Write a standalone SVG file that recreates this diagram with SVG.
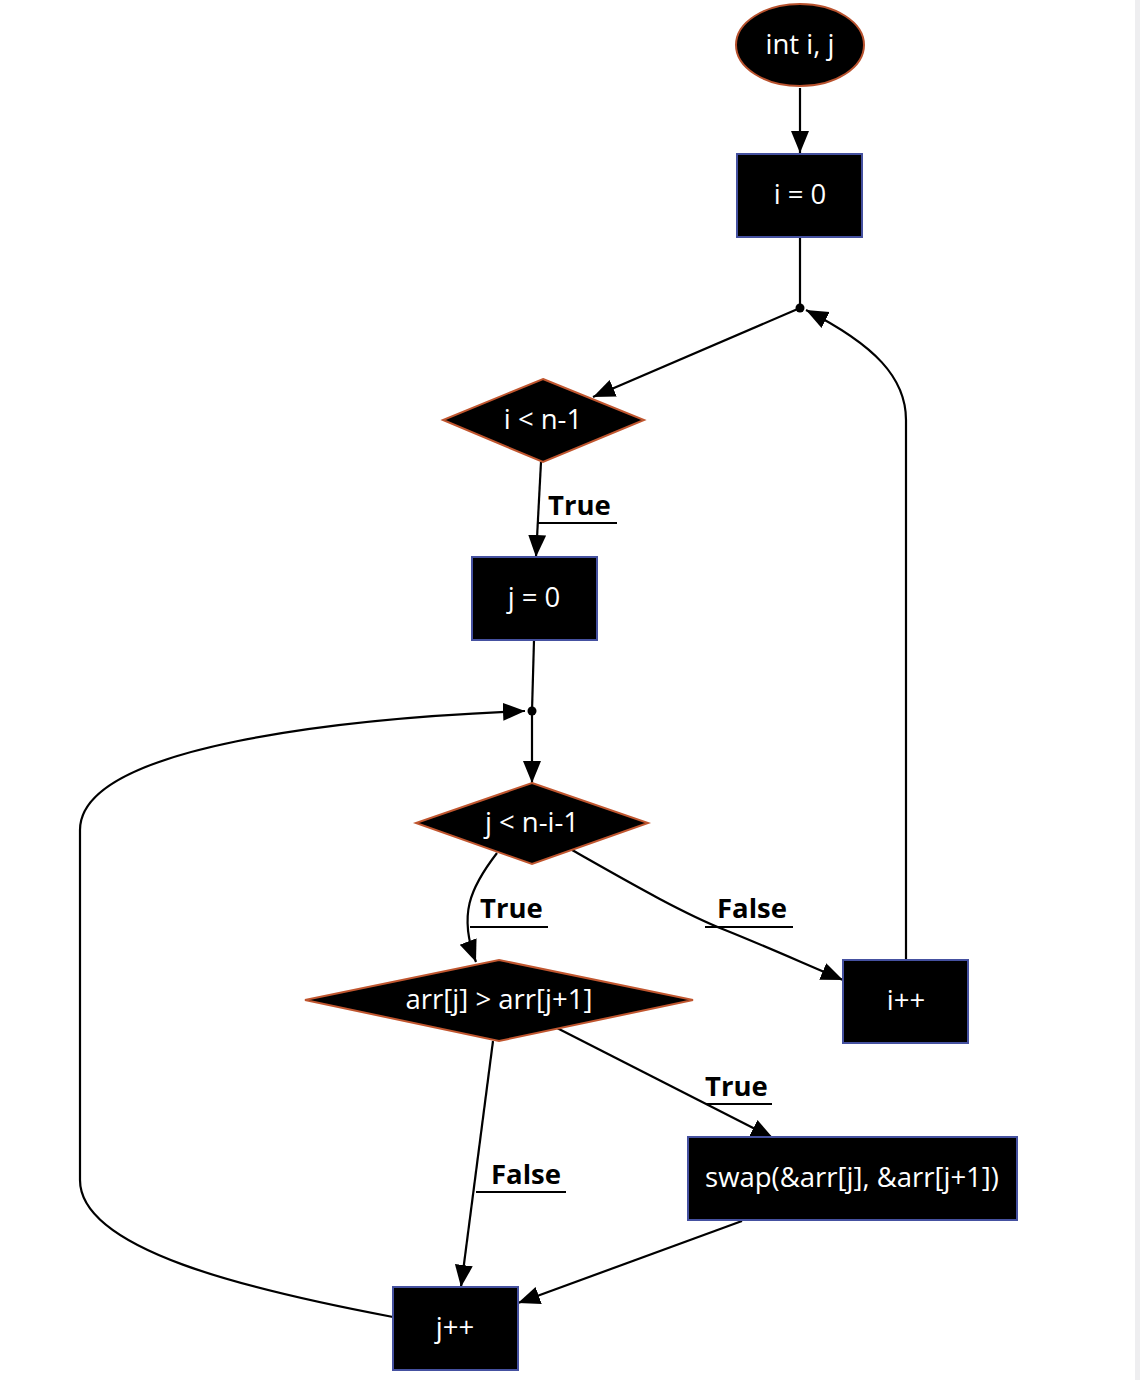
<svg xmlns="http://www.w3.org/2000/svg" width="1140" height="1380" viewBox="0 0 1140 1380">
<style>
.bg{fill:#ffffff}
.term{fill:#000;stroke:#b8522e;stroke-width:2}
.dec{fill:#000;stroke:#c0562f;stroke-width:2}
.proc{fill:#000;stroke:#4551a0;stroke-width:2}
.nt{font-family:"Open Sans","Noto Sans",sans-serif;font-size:27.5px;fill:#fff;text-anchor:middle}
.lbl{font-family:"Open Sans","Noto Sans",sans-serif;font-size:27.5px;font-weight:bold;fill:#000}
.e{fill:none;stroke:#000;stroke-width:2.2}
.ul{stroke:#000;stroke-width:2}
</style>
<defs>
<marker id="ah" markerUnits="userSpaceOnUse" markerWidth="24" markerHeight="20" refX="22" refY="10" orient="auto" viewBox="0 0 24 20">
<path d="M0,1 L22,10 L0,19 z" fill="#000"/>
</marker>
</defs>
<rect class="bg" x="0" y="0" width="1140" height="1380"/>
<rect x="1135" y="0" width="5" height="1380" fill="#eeeef0"/>
<g id="connectors">
<path class="e" d="M800,88 L800,153" marker-end="url(#ah)"/>
<path class="e" d="M800,237 L800,308"/>
<path class="e" d="M800,308 L593,397" marker-end="url(#ah)"/>
<path class="e" d="M541,462 L536,557" marker-end="url(#ah)"/>
<path class="e" d="M534,640 L532,711"/>
<path class="e" d="M532,711 L532,783" marker-end="url(#ah)"/>
<path class="e" d="M393,1317 C250,1290 80,1250 80,1180 L80,830 C80,745 350,718 525,711" marker-end="url(#ah)"/>
<path class="e" d="M906,960 L906,420 C906,378 875,345 806,310" marker-end="url(#ah)"/>
<path class="e" d="M497,853 C470,888 458,915 476,962" marker-end="url(#ah)"/>
<path class="e" d="M572,850 C625,880 680,912 725,930 C765,946 805,964 843,980" marker-end="url(#ah)"/>
<path class="e" d="M557,1028 L773,1138" marker-end="url(#ah)"/>
<path class="e" d="M493,1041 L461,1287" marker-end="url(#ah)"/>
<path class="e" d="M742,1221 L518,1303" marker-end="url(#ah)"/>
<circle cx="800" cy="308" r="4.5" fill="#000"/>
<circle cx="532" cy="711" r="4.5" fill="#000"/>
<text class="lbl" x="548" y="515">True</text>
<line class="ul" x1="538" y1="523" x2="617" y2="523"/>
<text class="lbl" x="480" y="918">True</text>
<line class="ul" x1="470" y1="927" x2="548" y2="927"/>
<text class="lbl" x="717" y="918">False</text>
<line class="ul" x1="705" y1="927" x2="793" y2="927"/>
<text class="lbl" x="705" y="1096">True</text>
<line class="ul" x1="706" y1="1104" x2="772" y2="1104"/>
<text class="lbl" x="491" y="1184">False</text>
<line class="ul" x1="476" y1="1192" x2="566" y2="1192"/>
</g>
<g id="n_start">
<ellipse class="term" cx="800" cy="45" rx="64" ry="41"/>
<text class="nt" x="800" y="54">int i, j</text>
</g>
<g id="n_i0">
<rect class="proc" x="737" y="154" width="125" height="83"/>
<text class="nt" x="800" y="204">i = 0</text>
</g>
<g id="n_icond">
<polygon class="dec" points="543,379 644,420 543,462 443,420"/>
<text class="nt" x="543" y="429">i &lt; n-1</text>
</g>
<g id="n_j0">
<rect class="proc" x="472" y="557" width="125" height="83"/>
<text class="nt" x="534" y="607">j = 0</text>
</g>
<g id="n_jcond">
<polygon class="dec" points="532,783 648,823 532,864 416,823"/>
<text class="nt" x="532" y="832">j &lt; n-i-1</text>
</g>
<g id="n_cmp">
<polygon class="dec" points="499,960 693,1000 499,1041 305,1000"/>
<text class="nt" x="499" y="1009">arr[j] &gt; arr[j+1]</text>
</g>
<g id="n_iinc">
<rect class="proc" x="843" y="960" width="125" height="83"/>
<text class="nt" x="906" y="1010">i++</text>
</g>
<g id="n_swap">
<rect class="proc" x="688" y="1137" width="329" height="83"/>
<text class="nt" x="852" y="1187">swap(&amp;arr[j], &amp;arr[j+1])</text>
</g>
<g id="n_jinc">
<rect class="proc" x="393" y="1287" width="125" height="83"/>
<text class="nt" x="455" y="1337">j++</text>
</g>
</svg>
